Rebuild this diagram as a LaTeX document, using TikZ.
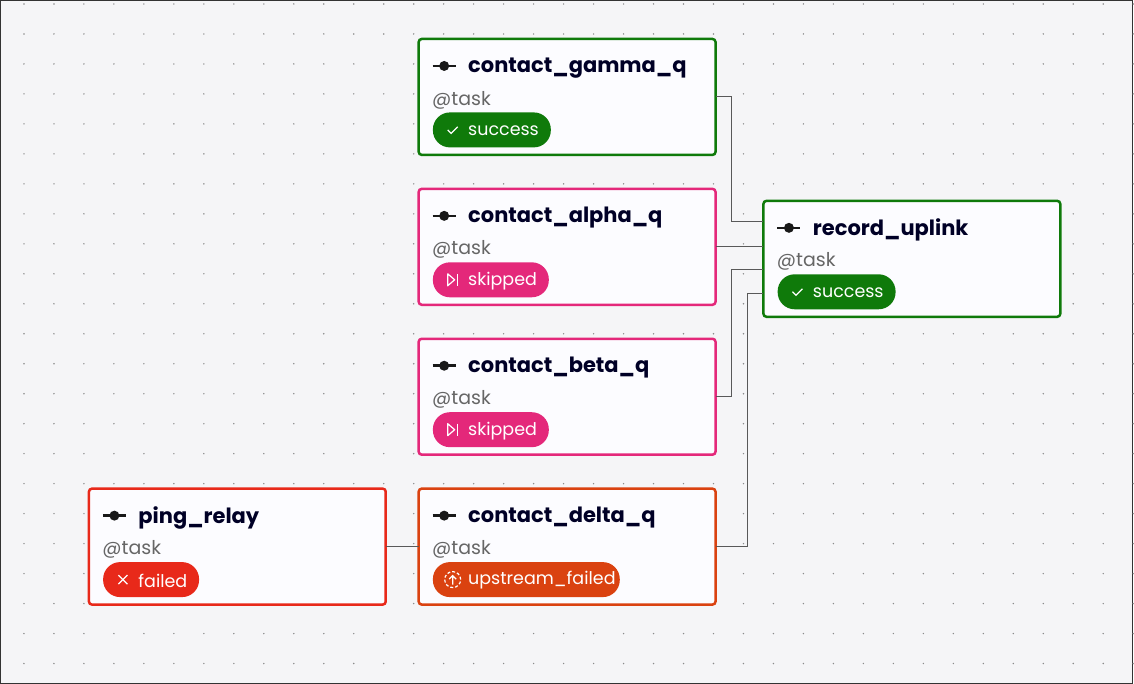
\documentclass[tikz,border=0pt]{standalone}
\usepackage{fontspec}
\setmainfont{Poppins}
\begin{document}
\begin{tikzpicture}[x=1pt,y=-1pt,
  box/.style={draw=#1,line width=2.5pt,rounded corners=3pt,fill=white!96!blue!30!white},
  edge/.style={draw=black!65,line width=1pt},
  title/.style={anchor=west,font=\fontsize{21}{22}\selectfont\bfseries,text=black!85!blue},
  deco/.style={anchor=west,font=\fontsize{19}{20}\selectfont,text=black!60},
  badge/.style={rounded corners=17pt,minimum height=35pt,anchor=west,inner sep=0pt}]
\definecolor{okg}{HTML}{0F7A0A}
\definecolor{skp}{HTML}{E4287A}
\definecolor{fl}{HTML}{E8291A}
\definecolor{up}{HTML}{DA4210}
\definecolor{bgc}{HTML}{F5F5F7}
\fill[bgc] (0,0) rectangle (1134,684);
\draw[black!80,line width=1pt] (0.5,0.5) rectangle (1133.5,683.5);
\foreach \x in {24,54,...,1134} \foreach \y in {4,34,...,684} \fill[black!45] (\x,\y) circle (0.8pt);
\newcommand{\tnode}[8]{% name, x, y, color, title, badge text, badge width, icon
  \path[box=#4] (#2,#3) rectangle ++(297,116);
  \coordinate (#1-w) at (#2,#3+58); \coordinate (#1-e) at (#2+297,#3+58);
  \draw[line width=2.5pt,black!90] (#2+14,#3+27) -- ++(23,0); \fill[black!90] (#2+25.5,#3+27) circle (5pt);
  \node[title] (#1-t) at (#2+46,#3+29) {#5};
  \node[deco] (#1-d) at (#2+10,#3+61) {@task};
  \node[badge,fill=#4,minimum width=#7] (#1-b) at (#2+14,#3+91) {};
  \node[anchor=west,text=white,font=\fontsize{17.5}{18}\selectfont] (#1-bt) at (#2+46,#3+92) {#6};
  \begin{scope}[shift={(#2+34,#3+91)},white,line width=1.2pt]#8\end{scope}
}
\def\chk{\draw (-5,0) -- (-1.5,3.5) -- (5,-3);}
\def\skp{\draw[line join=round] (-5,-6) -- (2,0) -- (-5,6) -- cycle; \draw (5,-6) -- (5,6);}
\def\xx{\draw (-4.5,-4.5) -- (4.5,4.5) (-4.5,4.5) -- (4.5,-4.5);}
\def\upf{\draw[dash pattern=on 3pt off 2pt] (0,0) circle (8pt); \draw (0,5) -- (0,-4) (-3.5,-0.5) -- (0,-4) -- (3.5,-0.5);}
\tnode{g}{419}{39}{okg}{contact\_gamma\_q}{success}{118pt}{\chk}
\tnode{a}{419}{189}{skp}{contact\_alpha\_q}{skipped}{116pt}{\skp}
\tnode{b}{419}{339}{skp}{contact\_beta\_q}{skipped}{116pt}{\skp}
\tnode{d}{419}{489}{up}{contact\_delta\_q}{upstream\_failed}{187pt}{\upf}
\tnode{p}{89}{489}{fl}{ping\_relay}{failed}{96pt}{\xx}
\tnode{r}{764}{201}{okg}{record\_uplink}{success}{118pt}{\chk}
\coordinate (r1) at (764,222); \coordinate (r2) at (764,247);
\coordinate (r3) at (764,270); \coordinate (r4) at (764,294);
\draw[edge] (g-e) -| (732,222) -- (r1);
\draw[edge] (a-e) -- (r2);
\draw[edge] (b-e) -| (732,270) -- (r3);
\draw[edge] (d-e) -| (748,294) -- (r4);
\draw[edge] (p-e) -- (d-w);
\end{tikzpicture}
\end{document}
